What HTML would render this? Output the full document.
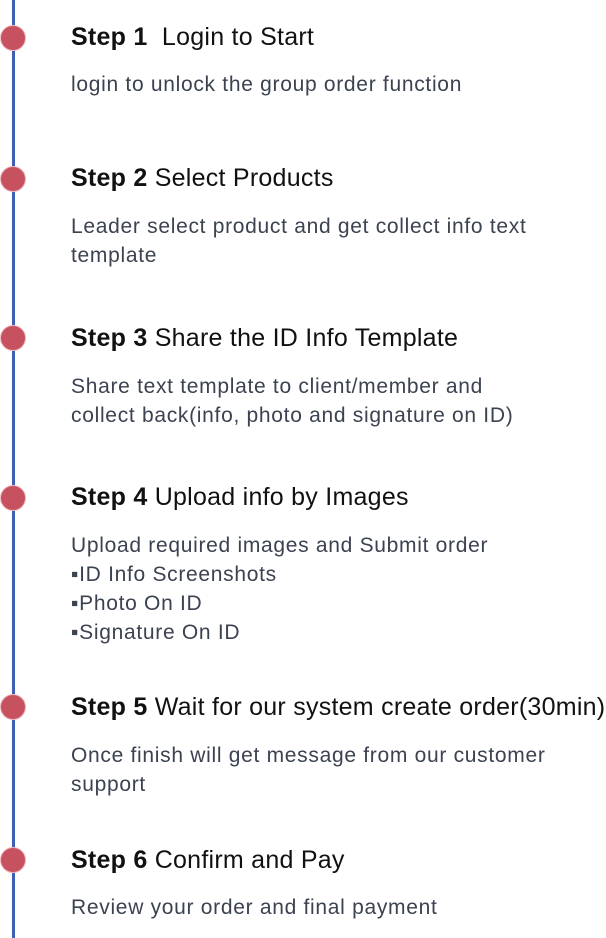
<!DOCTYPE html>
<html><head><meta charset="utf-8"><style>
body{margin:0;width:606px;height:938px;background:#fff;position:relative;overflow:hidden;font-family:"Liberation Sans",sans-serif}
.line{position:absolute;left:12px;top:0;width:3px;height:938px;background:#3d5fb5}
.dot{position:absolute;left:0px;width:26px;height:26px;border-radius:50%;background:#c65260;border:1px solid #f0b8bf;box-sizing:border-box}
.t{position:absolute;left:71px;font-size:25px;letter-spacing:0.25px;color:#111;white-space:nowrap;line-height:30px}
.t b{font-weight:bold}
.d{position:absolute;left:71px;font-size:21px;letter-spacing:0.7px;color:#3b4250;line-height:29px;white-space:nowrap}
</style></head><body>
<div class="line"></div>
<div class="dot" style="top:25px"></div>
<div class="dot" style="top:166px"></div>
<div class="dot" style="top:325px"></div>
<div class="dot" style="top:485px"></div>
<div class="dot" style="top:694px"></div>
<div class="dot" style="top:847px"></div>

<div class="t" style="top:22px"><b>Step 1</b>&nbsp; Login to Start</div>
<div class="d" style="top:70px">login to unlock the group order function</div>

<div class="t" style="top:163px"><b>Step 2</b> Select Products</div>
<div class="d" style="top:212px">Leader select product and get collect info text<br>template</div>

<div class="t" style="top:323px"><b>Step 3</b> Share the ID Info Template</div>
<div class="d" style="top:372px">Share text template to client/member and<br>collect back(info, photo and signature on ID)</div>

<div class="t" style="top:482px"><b>Step 4</b> Upload info by Images</div>
<div class="d" style="top:531px">Upload required images and Submit order<br>▪ID Info Screenshots<br>▪Photo On ID<br>▪Signature On ID</div>

<div class="t" style="top:692px"><b>Step 5</b> Wait for our system create order(30min)</div>
<div class="d" style="top:741px">Once finish will get message from our customer<br>support</div>

<div class="t" style="top:845px"><b>Step 6</b> Confirm and Pay</div>
<div class="d" style="top:893px">Review your order and final payment</div>
</body></html>
